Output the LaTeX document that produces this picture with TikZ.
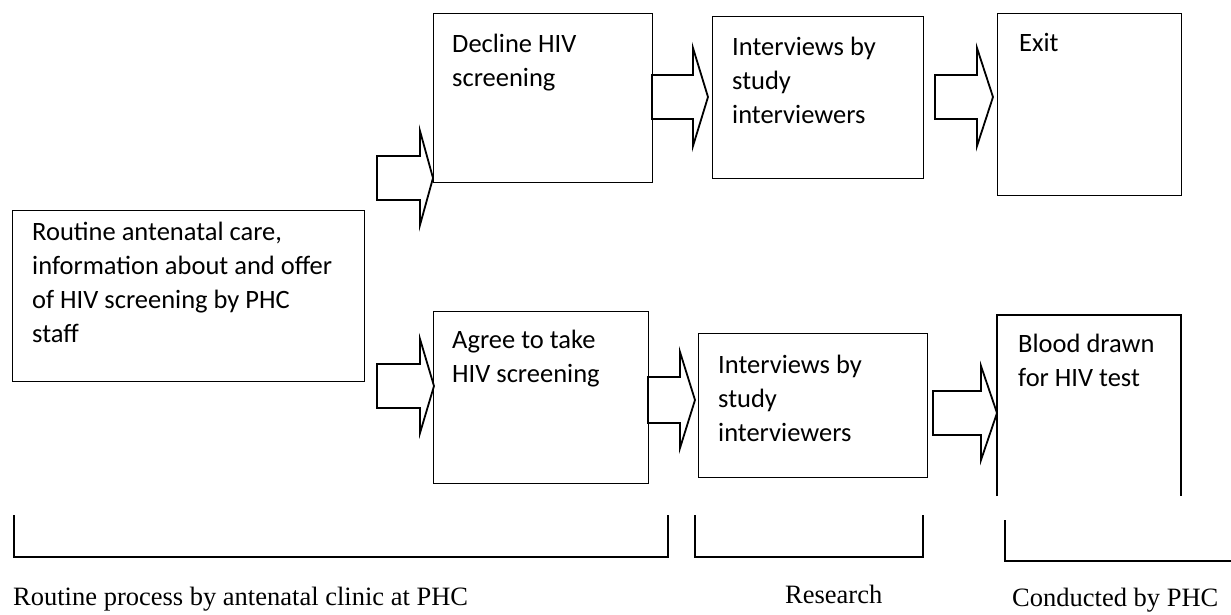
\documentclass[tikz,border=0pt]{standalone}
\usepackage{fontspec}
\setmainfont{Liberation Serif}
\newfontfamily\boxfont{Carlito}
\newcommand\topstrut{\rule{0pt}{20pt}}
\newcommand\myblockarrow[6]{%
  \draw[blockarrow] (#1,#4-#5) -- (#2,#4-#5) -- (#2,#4-#6) -- (#3,#4) -- (#2,#4+#6) -- (#2,#4+#5) -- (#1,#4+#5) -- cycle;}
\begin{document}
\begin{tikzpicture}[x=1pt,y=-1pt,
  box/.style={draw, line width=1.2pt, inner sep=0pt, anchor=north west},
  txt/.style={inner sep=0pt, anchor=north west, align=left, font=\boxfont\fontsize{26.5}{34}\selectfont},
  blockarrow/.style={draw, line width=1.8pt, line join=miter},
  brk/.style={draw, line width=1.8pt},
  lab/.style={inner sep=0pt, anchor=base west, font=\fontsize{26.5}{32}\selectfont}]
\useasboundingbox (0,0) rectangle (1231,614);

% boxes
\node[box, minimum width=352pt, minimum height=171pt] (routine) at (12,210) {};
\node[box, minimum width=219pt, minimum height=169pt] (decline) at (433,13) {};
\node[box, minimum width=211pt, minimum height=162pt] (intA) at (712,16) {};
\node[box, minimum width=184pt, minimum height=182pt] (exit) at (997,13) {};
\node[box, minimum width=215pt, minimum height=172pt] (agree) at (433,311) {};
\node[box, minimum width=229pt, minimum height=144pt] (intB) at (698,333) {};
\coordinate (bloodBL) at (997,496);
\coordinate (bloodTL) at (997,315);
\coordinate (bloodTR) at (1181,315);
\coordinate (bloodBR) at (1181,496);
\draw[line width=1.2pt] (bloodBL) -- (bloodTL) -- (bloodTR) -- (bloodBR);

% texts
\node[txt] (routineT) at (32,220) {\topstrut Routine antenatal care,\\information about and offer\\of HIV screening by PHC\\staff};
\node[txt] (declineT) at (452,32) {\topstrut Decline HIV\\screening};
\node[txt] (intAT) at (732,35) {\topstrut Interviews by\\study\\interviewers};
\node[txt] (exitT) at (1019,31) {\topstrut Exit};
\node[txt] (agreeT) at (452,328) {\topstrut Agree to take\\HIV screening};
\node[txt] (intBT) at (718,353) {\topstrut Interviews by\\study\\interviewers};
\node[txt] (bloodT) at (1018,332) {\topstrut Blood drawn\\for HIV test};

% block arrows
\myblockarrow{377}{420}{433}{178}{22}{47}
\myblockarrow{377}{420}{434}{386}{22}{47}
\myblockarrow{652}{693}{708}{97}{22}{49}
\myblockarrow{648}{680}{695}{400}{23}{48}
\myblockarrow{935}{977}{993}{97}{22}{49}
\myblockarrow{933}{981}{997}{413}{22}{47}

% brackets
\draw[brk] (14,515) -- (14,557) -- (668,557) -- (668,515);
\draw[brk] (695,515) -- (695,557) -- (923,557) -- (923,515);
\draw[brk] (1005,520) -- (1005,561) -- (1231,561);

% labels
\node[lab] (lab1) at (13,605) {Routine process by antenatal clinic at PHC};
\node[lab] (lab2) at (785,603) {Research};
\node[lab] (lab3) at (1012,606) {Conducted by PHC};
\end{tikzpicture}
\end{document}
